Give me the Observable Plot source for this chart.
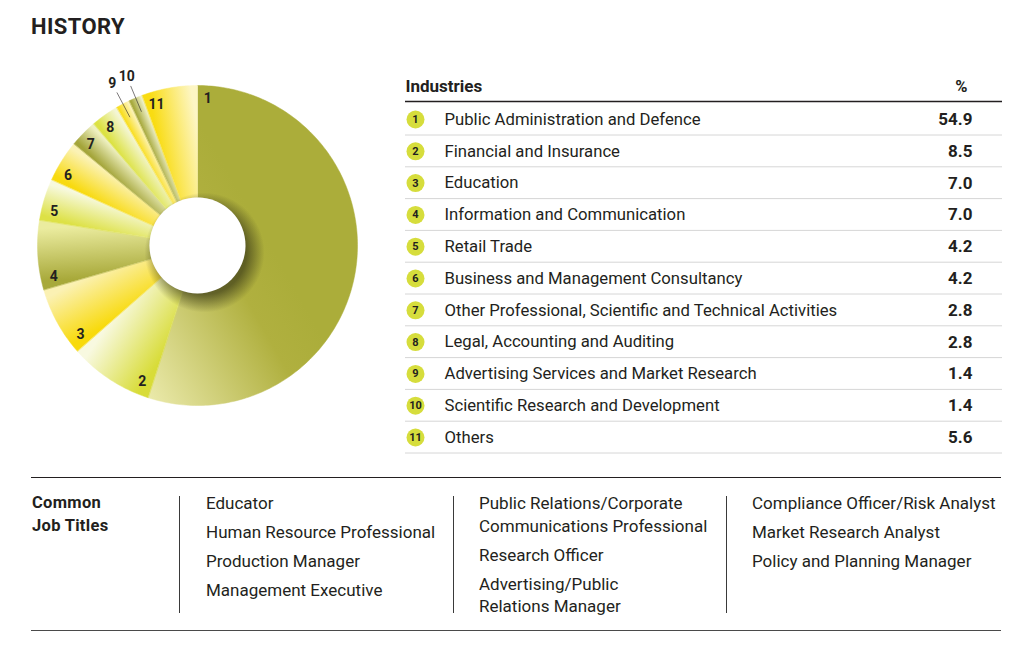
<!DOCTYPE html>
<html>
<head>
<meta charset="utf-8">
<script src="https://cdn.jsdelivr.net/npm/d3@7"></script>
<script src="https://cdn.jsdelivr.net/npm/@observablehq/plot@0.6"></script>
<style>
  html, body { margin: 0; padding: 0; background: #fff; }
  body { width: 1030px; height: 652px; position: relative; overflow: hidden;
         font-family: Roboto, "Noto Sans", sans-serif; color: #231f20; }
  .abs { position: absolute; }
  #title { left: 31px; top: 16px; font-size: 22px; line-height: 22px; font-weight: 700; letter-spacing: 0.4px; }
  .hr { position: absolute; height: 0; }
  .vr { position: absolute; width: 0; border-left: 1px solid #3a3a3a; top: 496px; height: 117px; }
  .col { position: absolute; top: 492px; font-size: 17px; line-height: 22.5px; white-space: pre-line; }
  .col div { margin-bottom: 6.5px; }
  #jobhead { left: 32px; top: 492px; font-size: 16.5px; line-height: 22.5px; font-weight: 700; white-space: pre-line; letter-spacing: 0.3px; }
</style>
</head>
<body>
<div id="title" class="abs">HISTORY</div>
<div id="pie" class="abs" style="left:2px; top:50px;"></div>
<div id="table" class="abs" style="left:400px; top:70px;"></div>
<div class="hr" style="left:31px; width:970px; top:477px; border-top:1.5px solid #231f20;"></div>
<div class="hr" style="left:31px; width:970px; top:630px; border-top:1.5px solid #4a4a4a;"></div>
<div id="jobhead" class="abs"></div>
<div class="vr" style="left:179px;"></div>
<div class="vr" style="left:453px;"></div>
<div class="vr" style="left:726px;"></div>
<div id="c1" class="col" style="left:206px;"></div>
<div id="c2" class="col" style="left:479px;"></div>
<div id="c3" class="col" style="left:752px;"></div>
<script>
// ---------- data ----------
const ids = [1, 2, 3, 4, 5, 6, 7, 8, 9, 10, 11];
const industries = [
  "Public Administration and Defence",
  "Financial and Insurance",
  "Education",
  "Information and Communication",
  "Retail Trade",
  "Business and Management Consultancy",
  "Other Professional, Scientific and Technical Activities",
  "Legal, Accounting and Auditing",
  "Advertising Services and Market Research",
  "Scientific Research and Development",
  "Others"
];
const shares = [54.9, 8.5, 7.0, 7.0, 4.2, 4.2, 2.8, 2.8, 1.4, 1.4, 5.6];
const tableHeader = ["Industries", "%"];
const jobHeading = "Common\nJob Titles";
const jobTitles1 = ["Educator", "Human Resource Professional", "Production Manager", "Management Executive"];
const jobTitles2 = ["Public Relations/Corporate\nCommunications Professional", "Research Officer", "Advertising/Public\nRelations Manager"];
const jobTitles3 = ["Compliance Officer/Risk Analyst", "Market Research Analyst", "Policy and Planning Manager"];

// ---------- styles ----------
const ink = "#231f20";
const gradientColors = [
  ["#abad3a", "#eeedb1"],
  ["#d8dc38", "#f8f9e0"],
  ["#f8da0c", "#fbf1b3"],
  ["#a8a93a", "#ebec9f"],
  ["#dde146", "#f7f9de"],
  ["#f8da10", "#fbf2b5"],
  ["#a4a53a", "#eef0c0"],
  ["#dce243", "#f4f6d4"],
  ["#f9de22", "#fcf3b8"],
  ["#a8aa3e", "#eef0c8"],
  ["#f9dc12", "#fdf6c4"]
];

// ---------- pie ----------
const R = 160, r0 = 48, extent = 195, size = 390;
const rows = ids.map((id, i) => ({id, name: industries[i], share: shares[i]}));
const arcs = d3.pie().sort(null).value(d => d.share)(rows);
const polar = (a, r) => ({x: r * Math.sin(a), y: r * Math.cos(a)});
const deg = Math.PI / 180;

const slicePts = [];
arcs.forEach(a => {
  const id = a.data.id, fill = `url(#slice-g${id})`;
  const n = Math.max(4, Math.ceil((a.endAngle - a.startAngle) / deg));
  for (let k = 0; k <= n; k++) {
    const t = a.startAngle + (a.endAngle - a.startAngle) * k / n;
    slicePts.push({id, fill, ...polar(t, R)});
  }
  for (let k = n; k >= 0; k--) {
    const t = a.startAngle + (a.endAngle - a.startAngle) * k / n;
    slicePts.push({id, fill, ...polar(t, r0)});
  }
});

const labels = arcs.map(a => {
  const small = a.data.share < 2;
  const mid = (a.startAngle + a.endAngle) / 2;
  const p = small ? polar(mid, 183) : polar(a.startAngle + 4 * deg, 147);
  return {text: String(a.data.id), ...p};
});
const leaders = arcs.filter(a => a.data.share < 2).map(a => {
  const mid = (a.startAngle + a.endAngle) / 2;
  const p1 = polar(mid, 173), p2 = polar(mid, 145);
  return {x1: p1.x, y1: p1.y, x2: p2.x, y2: p2.y};
});
const center = [{x: 0, y: 0}];

const pie = Plot.plot({
  width: size, height: size, margin: 0,
  x: {domain: [-extent, extent], axis: null},
  y: {domain: [-extent, extent], axis: null},
  color: {type: "identity"},
  style: {fontFamily: "Roboto, 'Noto Sans', sans-serif"},
  marks: [
    Plot.line(slicePts, {x: "x", y: "y", z: "id", fill: "fill", stroke: "fill", strokeWidth: 0.5, curve: "linear-closed"}),
    Plot.dot(center, {x: "x", y: "y", r: 60, dx: 7, dy: 7, fill: "url(#pie-shadow)", stroke: "none"}),
    Plot.dot(center, {x: "x", y: "y", r: r0, fill: "white", stroke: "none"}),
    Plot.link(leaders, {x1: "x1", y1: "y1", x2: "x2", y2: "y2", stroke: ink, strokeWidth: 0.6}),
    Plot.text(labels, {x: "x", y: "y", text: "text", fontSize: 14, fontWeight: 700, fill: ink})
  ]
});

// gradients
const xs = pie.scale("x"), ys = pie.scale("y");
const defs = d3.select(pie).insert("defs", ":first-child");
arcs.forEach((a, i) => {
  let p1, p2, stops;
  if (i === 0) {
    p1 = polar(115 * deg, 110); p2 = polar(205 * deg, 155);
    stops = [[0, gradientColors[0][0]], [0.25, "#b0b03f"], [1, gradientColors[0][1]]];
  } else {
    p1 = polar(a.startAngle, 0.75 * R); p2 = polar(a.endAngle, 0.75 * R);
    stops = [[0, gradientColors[i][0]], [1, gradientColors[i][1]]];
  }
  const g = defs.append("linearGradient").attr("id", `slice-g${a.data.id}`)
    .attr("gradientUnits", "userSpaceOnUse")
    .attr("x1", xs.apply(p1.x)).attr("y1", ys.apply(p1.y))
    .attr("x2", xs.apply(p2.x)).attr("y2", ys.apply(p2.y));
  stops.forEach(([o, c]) => g.append("stop").attr("offset", o).attr("stop-color", c));
});
const sh = defs.append("radialGradient").attr("id", "pie-shadow");
sh.append("stop").attr("offset", 0).attr("stop-color", "#44441a").attr("stop-opacity", 0.8);
sh.append("stop").attr("offset", 0.7).attr("stop-color", "#44441a").attr("stop-opacity", 0.75);
sh.append("stop").attr("offset", 1).attr("stop-color", "#44441a").attr("stop-opacity", 0);
document.getElementById("pie").append(pie);

// ---------- table ----------
const fmt = d3.format(".1f");
const table = Plot.plot({
  width: 605, height: 390,
  marginLeft: 5, marginRight: 3, marginTop: 0, marginBottom: 0,
  y: {type: "point", domain: ids, range: [49, 367], padding: 0, round: false, axis: null},
  style: {fontFamily: "Roboto, 'Noto Sans', sans-serif"},
  marks: [
    Plot.ruleY(rows, {y: "id", dy: 15.5, stroke: "#d6d6d6", strokeWidth: 1}),
    Plot.ruleY([ids[0]], {y: d => d, dy: -18, stroke: ink, strokeWidth: 1.5}),
    Plot.text([tableHeader[0]], {frameAnchor: "top-left", dy: 16, textAnchor: "start", lineAnchor: "middle", fontSize: 17, fontWeight: 700, fill: ink}),
    Plot.text([tableHeader[1]], {frameAnchor: "top-right", dx: -35, dy: 16, textAnchor: "end", lineAnchor: "middle", fontSize: 16.5, fontWeight: 700, fill: ink}),
    Plot.dot(rows, {y: "id", frameAnchor: "left", dx: 10, r: 9, fill: "#d6dd3c", stroke: "none"}),
    Plot.text(rows, {y: "id", text: "id", frameAnchor: "left", dx: 10, textAnchor: "middle", fontSize: 11, fontWeight: 700, fill: ink}),
    Plot.text(rows, {y: "id", text: "name", frameAnchor: "left", dx: 39, textAnchor: "start", fontSize: 16.7, fill: ink}),
    Plot.text(rows, {y: "id", text: d => fmt(d.share), frameAnchor: "right", dx: -30, textAnchor: "end", fontSize: 17, fontWeight: 700, letterSpacing: 1, fill: ink})
  ]
});
document.getElementById("table").append(table);

// ---------- job titles ----------
document.getElementById("jobhead").textContent = jobHeading;
[[ "c1", jobTitles1 ], [ "c2", jobTitles2 ], [ "c3", jobTitles3 ]].forEach(([id, list]) => {
  const el = document.getElementById(id);
  list.forEach(t => { const d = document.createElement("div"); d.textContent = t; el.append(d); });
});
</script>
</body>
</html>
